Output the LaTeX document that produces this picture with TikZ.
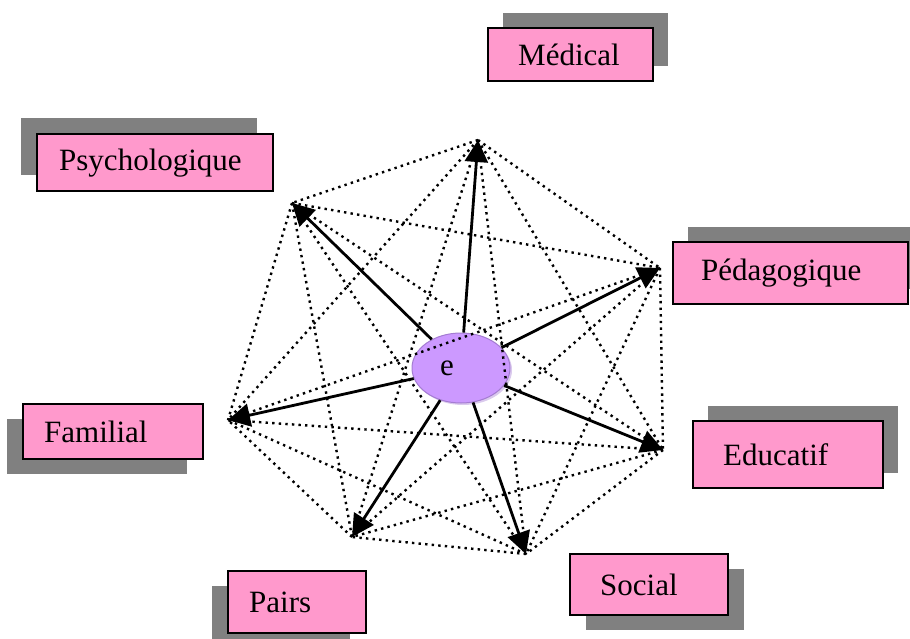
\documentclass[tikz,border=0pt]{standalone}
\usepackage{fontspec}
\setmainfont{Liberation Serif}
\usetikzlibrary{arrows.meta,shadows,shapes.geometric}
\definecolor{BoxPink}{HTML}{FF99CC}
\definecolor{ShadowGray}{HTML}{808080}
\definecolor{CoreLilac}{HTML}{CC99FF}
\definecolor{CoreRim}{HTML}{A47CD2}

\begin{document}
\begin{tikzpicture}[
    x=1pt,y=-1pt,
    font=\fontsize{31}{36}\selectfont,
    link/.style={line width=2.4pt,dash pattern=on 2.4pt off 4.2pt},
    pull/.style={-{Triangle[length=22pt,width=23pt]},line width=2.8pt},
    field/.style={draw=black,line width=2.4pt,fill=BoxPink,align=left,
      anchor=north west,inner ysep=0pt},
    shade ur/.style={general shadow={fill=ShadowGray,shadow xshift=15pt,shadow yshift=15pt}},
    shade ul/.style={general shadow={fill=ShadowGray,shadow xshift=-16pt,shadow yshift=16pt}},
    shade dr/.style={general shadow={fill=ShadowGray,shadow xshift=16pt,shadow yshift=-15pt}},
    shade dl/.style={general shadow={fill=ShadowGray,shadow xshift=-16pt,shadow yshift=-15pt}},
    core/.style={ellipse,draw=CoreRim,line width=1pt,fill=CoreLilac,
      minimum width=98pt,minimum height=70pt,inner sep=0pt,
      drop shadow={fill=CoreRim!80,shadow xshift=2pt,shadow yshift=-2pt}}
  ]
    \useasboundingbox (0,0) rectangle (910,639);

    % Surrounding fields.
    \node[field,shade ur,text width=105pt,inner xsep=30pt,minimum height=53pt]
      (medical) at (487,27) {Médical};
    \node[field,shade ul,text width=192pt,inner xsep=22pt,minimum height=57pt]
      (psycho) at (36,133) {Psychologique};
    \node[field,shade ur,text width=179pt,inner xsep=28pt,minimum height=62pt]
      (pedago) at (672,241) {Pédagogique};
    \node[field,shade ur,text width=130pt,inner xsep=30pt,minimum height=67pt]
      (educ) at (692,420) {Educatif};
    \node[field,shade dr,text width=98pt,inner xsep=30pt,minimum height=61pt]
      (social) at (569,553) {Social};
    \node[field,shade dl,text width=96pt,inner xsep=21pt,minimum height=62pt]
      (pairs) at (227,570) {Pairs};
    \node[field,shade dl,text width=138pt,inner xsep=21pt,minimum height=55pt]
      (familial) at (22,403) {Familial};

    % Corners of the web.
    \coordinate (vmed) at (478,140);
    \coordinate (vpsy) at (292,203);
    \coordinate (vped) at (660,268);
    \coordinate (vedu) at (663,450);
    \coordinate (vsoc) at (526,554);
    \coordinate (vpai) at (352,537);
    \coordinate (vfam) at (228,420);

    \node[core] (e) at (461,368) {e\hspace*{28pt}};

    % Dotted web between every pair of corners.
    \draw[link] (vmed) -- (vpsy) (vmed) -- (vped) (vmed) -- (vedu)
      (vmed) -- (vsoc) (vmed) -- (vpai) (vmed) -- (vfam);
    \draw[link] (vpsy) -- (vped) (vpsy) -- (vedu) (vpsy) -- (vsoc)
      (vpsy) -- (vpai) (vpsy) -- (vfam);
    \draw[link] (vped) -- (vedu) (vped) -- (vsoc) (vped) -- (vpai)
      (vped) -- (vfam);
    \draw[link] (vedu) -- (vsoc) (vedu) -- (vpai) (vedu) -- (vfam);
    \draw[link] (vsoc) -- (vpai) (vsoc) -- (vfam);
    \draw[link] (vpai) -- (vfam);

    % Arrows out of the centre.
    \draw[pull] (e) -- (vmed);
    \draw[pull] (e) -- (vpsy);
    \draw[pull] (e) -- (vped);
    \draw[pull] (e) -- (vedu);
    \draw[pull] (e) -- (vsoc);
    \draw[pull] (e) -- (vpai);
    \draw[pull] (e) -- (vfam);
  \end{tikzpicture}
\end{document}
